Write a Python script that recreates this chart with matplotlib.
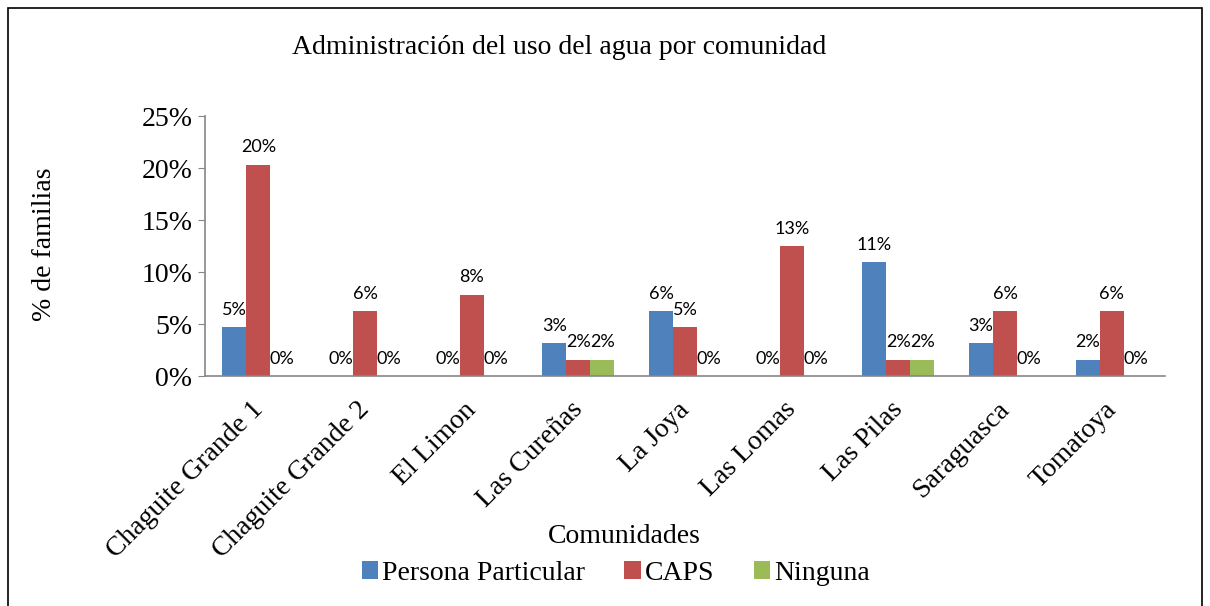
import matplotlib
matplotlib.use("Agg")
import matplotlib.pyplot as plt
import numpy as np
from matplotlib.patches import Rectangle
from matplotlib.transforms import ScaledTranslation

categories = ["Chaguite Grande 1", "Chaguite Grande 2", "El Limon", "Las Cureñas",
              "La Joya", "Las Lomas", "Las Pilas", "Saraguasca", "Tomatoya"]
persona = [4.69, 0, 0, 3.13, 6.25, 0, 10.94, 3.13, 1.56]
caps = [20.31, 6.25, 7.81, 1.56, 4.69, 12.5, 1.56, 6.25, 6.25]
ninguna = [0, 0, 0, 1.56, 0, 0, 1.56, 0, 0]
series_names = ["Persona Particular", "CAPS", "Ninguna"]
colors = ["#4F81BD", "#C0504D", "#9BBB59"]
yticks = [0, 5, 10, 15, 20, 25]

serif = "Liberation Serif"
sans = ["Lato", "DejaVu Sans"]

fig = plt.figure(figsize=(12.1, 6.06), dpi=100)
ax = fig.add_axes([0.1694, 0.3795, 0.7934, 0.429])

x = np.arange(len(categories))
w = 0.225
for i, (vals, name, c) in enumerate(zip([persona, caps, ninguna], series_names, colors)):
    pos = x + (i - 1) * w
    ax.bar(pos, vals, width=w, color=c, label=name, edgecolor="none")
    for p, v in zip(pos, vals):
        ax.text(p, v + 0.9, f"{int(v + 0.5)}%", ha="center", va="bottom",
                fontsize=13, family=sans)

ax.set_xlim(-0.5, len(categories) - 0.5)
ax.set_ylim(0, 25)
ax.set_yticks(yticks)
ax.set_yticklabels([f"{t}%" for t in yticks], fontsize=20, family=serif)
ax.set_xticks(x)
ax.set_xticklabels(categories, rotation=45, ha="right", rotation_mode="anchor",
                   fontsize=20, family=serif)
ax.tick_params(axis="x", length=0, pad=8)
ax.tick_params(axis="y", length=5, color="#868686", pad=4)
shift = ScaledTranslation(-8 / 100, -10 / 100, fig.dpi_scale_trans)
for lbl in ax.get_xticklabels():
    lbl.set_transform(lbl.get_transform() + shift)
for s in ["top", "right"]:
    ax.spines[s].set_visible(False)
for s in ["left", "bottom"]:
    ax.spines[s].set_color("#868686")
    ax.spines[s].set_linewidth(1.2)

fig.text(0.037, 0.597, "% de familias", rotation=90, ha="center", va="center",
         fontsize=20, family=serif)
fig.text(0.516, 0.114, "Comunidades", ha="center", va="center", fontsize=20, family=serif)
fig.text(0.462, 0.922, "Administración del uso del agua por comunidad", ha="center",
         va="center", fontsize=20, family=serif)

fig.legend(loc="center", bbox_to_anchor=(0.509, 0.054), ncol=3, frameon=False,
           prop={"family": serif, "size": 20}, handlelength=0.6, handleheight=0.6,
           handletextpad=0.15, columnspacing=1.4)

fig.patches.append(Rectangle((0.007, -0.01), 0.986, 0.997, transform=fig.transFigure,
                             fill=False, edgecolor="black", linewidth=1.2))

fig.savefig("out.png", dpi=100)
